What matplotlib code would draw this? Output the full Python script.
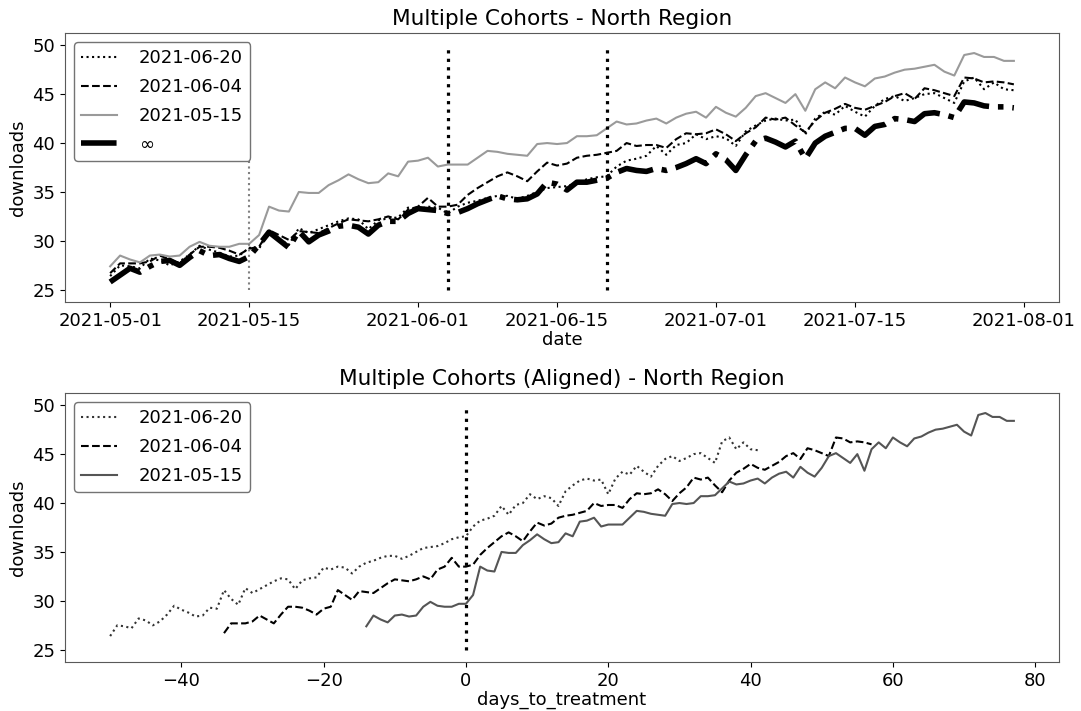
import numpy as np
import matplotlib
matplotlib.use('Agg')
import matplotlib.pyplot as plt
import matplotlib.dates as mdates

# Daily downloads, North region, starting 2021-05-01 (one value per day)
start_date = '2021-05-01'
cohort_labels = ['2021-06-20', '2021-06-04', '2021-05-15']

downloads_0620 = [
    26.4, 27.5, 27.4, 27.2, 28.2, 28.0, 27.5, 27.9, 28.6, 29.5,
    29.1, 28.8, 28.4, 28.5, 29.3, 29.2, 31.1, 30.2, 29.6, 31.3,
    30.8, 31.2, 31.6, 32.0, 32.3, 32.2, 31.2, 32.1, 32.3, 32.4,
    33.4, 33.2, 33.5, 33.4, 32.8, 33.5, 33.9, 34.1, 34.4, 34.6,
    34.6, 34.3, 34.6, 35.0, 35.4, 35.5, 35.6, 35.9, 36.3, 36.5,
    36.6, 37.6, 38.2, 38.4, 38.7, 39.7, 38.8, 39.8, 40.0, 40.9,
    40.4, 40.7, 40.5, 39.7, 41.2, 41.8, 42.3, 42.5, 42.3, 42.4,
    40.9, 42.5, 43.2, 42.9, 43.8, 43.2, 42.7, 43.8, 44.5, 44.8,
    44.3, 44.6, 45.0, 45.1, 44.6, 44.1, 46.3, 46.7, 45.5, 46.2,
    45.5, 45.4]

downloads_0604 = [
    26.7, 27.7, 27.7, 27.7, 27.9, 28.5, 28.1, 27.7, 28.6, 29.4,
    29.4, 29.3, 29.0, 28.6, 29.2, 29.4, 31.1, 30.6, 30.1, 31.0,
    30.9, 30.8, 31.3, 31.8, 32.2, 32.1, 32.0, 32.2, 32.5, 32.2,
    33.2, 33.5, 34.4, 33.5, 33.5, 33.7, 34.7, 35.4, 36.0, 36.6,
    37.0, 36.6, 36.1, 37.1, 38.0, 37.7, 37.9, 38.5, 38.7, 38.8,
    39.0, 39.2, 40.0, 39.7, 39.8, 39.8, 39.5, 40.4, 41.0, 40.9,
    41.0, 41.4, 40.9, 40.2, 41.0, 41.6, 42.6, 42.4, 42.6, 41.8,
    41.1, 42.3, 43.1, 43.5, 44.0, 43.6, 43.4, 43.8, 44.2, 44.8,
    45.1, 44.5, 45.6, 45.4, 45.1, 44.8, 46.7, 46.6, 46.2, 46.3,
    46.2, 46.0]

downloads_0515 = [
    27.4, 28.5, 28.1, 27.8, 28.5, 28.6, 28.4, 28.5, 29.4, 29.9,
    29.5, 29.4, 29.4, 29.7, 29.7, 30.6, 33.5, 33.1, 33.0, 35.0,
    34.9, 34.9, 35.7, 36.2, 36.8, 36.3, 35.9, 36.0, 36.9, 36.6,
    38.1, 38.2, 38.5, 37.6, 37.8, 37.8, 37.8, 38.5, 39.2, 39.1,
    38.9, 38.8, 38.7, 39.9, 40.0, 39.9, 40.0, 40.7, 40.7, 40.8,
    41.5, 42.2, 41.9, 42.0, 42.3, 42.5, 42.0, 42.6, 43.0, 43.2,
    42.6, 43.7, 43.1, 42.7, 43.6, 44.8, 45.1, 44.6, 44.1, 45.0,
    43.3, 45.5, 46.2, 45.6, 46.7, 46.2, 45.8, 46.6, 46.8, 47.2,
    47.5, 47.6, 47.8, 48.0, 47.3, 46.9, 49.0, 49.2, 48.8, 48.8,
    48.4, 48.4]

# Never-treated cohort
downloads_never = [
    25.8, 26.5, 27.2, 26.8, 27.4, 27.9, 28.0, 27.5, 28.3, 29.0,
    28.5, 28.6, 28.2, 27.9, 28.4, 29.6, 30.9, 30.1, 29.3, 31.0,
    29.9, 30.6, 31.0, 31.5, 31.6, 31.4, 30.7, 31.6, 32.0, 32.0,
    32.8, 33.3, 33.2, 33.1, 32.8, 32.9, 33.3, 33.8, 34.2, 34.6,
    34.3, 34.2, 34.3, 34.8, 36.0, 35.8, 35.2, 36.0, 36.0, 36.2,
    36.4, 37.0, 37.4, 37.2, 37.1, 37.4, 37.2, 37.5, 37.9, 38.4,
    37.9, 38.9, 38.3, 37.2, 38.8, 40.2, 40.5, 40.1, 39.6, 40.2,
    38.4, 40.0, 40.7, 41.1, 41.5, 41.5, 40.8, 41.7, 41.9, 42.5,
    42.4, 42.2, 43.0, 43.1, 42.9, 42.6, 44.2, 44.1, 43.8, 43.7,
    43.7, 43.6]

cohort_values = [downloads_0620, downloads_0604, downloads_0515]

# Line styles per cohort (top panel / aligned panel colours)
styles = [
    dict(linestyle=':', top_color='k', aligned_color='#333333'),
    dict(linestyle='--', top_color='k', aligned_color='k'),
    dict(linestyle='-', top_color='#9a9a9a', aligned_color='#555555'),
]

plt.rcParams['font.size'] = 13

start = np.datetime64(start_date, 'D')
dates = start + np.arange(len(downloads_0620))

fig = plt.figure(figsize=(10.81, 7.11), dpi=100)
ax_top = fig.add_axes([0.0601, 0.5752, 0.9196, 0.3784])
ax_bot = fig.add_axes([0.0601, 0.0689, 0.9196, 0.3784])

# --- Top: calendar time ---
for label, values, st in zip(cohort_labels, cohort_values, styles):
    ax_top.plot(dates, values, linestyle=st['linestyle'], color=st['top_color'],
                linewidth=1.5, label=label)
ax_top.plot(dates, downloads_never, linestyle='-.', color='k', linewidth=4,
            label='\u221e')

# treatment dates as vertical lines
for label, st in zip(cohort_labels, styles):
    vcolor = 'k' if st['top_color'] == 'k' else '#808080'
    vwidth = 2.3 if st['top_color'] == 'k' else 1.5
    ax_top.vlines(np.datetime64(label), 25, 50, linestyles=':', colors=vcolor,
                  linewidth=vwidth)

ax_top.xaxis.set_major_locator(mdates.DayLocator(bymonthday=[1, 15]))
ax_top.xaxis.set_major_formatter(mdates.DateFormatter('%Y-%m-%d'))
ax_top.set_title('Multiple Cohorts - North Region')
ax_top.set_xlabel('date', labelpad=1)
ax_top.set_ylabel('downloads')
ax_top.legend(loc='upper left', edgecolor='0.45', framealpha=1,
              handletextpad=1.2, labelspacing=0.6)

# --- Bottom: aligned on treatment date ---
for label, values, st in zip(cohort_labels, cohort_values, styles):
    days_to_treatment = (dates - np.datetime64(label, 'D')).astype(int)
    ax_bot.plot(days_to_treatment, values, linestyle=st['linestyle'],
                color=st['aligned_color'], linewidth=1.5, label=label)
ax_bot.vlines(0, 25, 50, linestyles=':', colors='k', linewidth=2.3)

ax_bot.set_title('Multiple Cohorts (Aligned) - North Region')
ax_bot.set_xlabel('days_to_treatment', labelpad=1)
ax_bot.set_ylabel('downloads')
ax_bot.legend(loc='upper left', edgecolor='0.45', framealpha=1,
              handletextpad=1.2, labelspacing=0.6)

for ax in (ax_top, ax_bot):
    for spine in ax.spines.values():
        spine.set_edgecolor('0.35')

fig.savefig('out.png', dpi=100)
